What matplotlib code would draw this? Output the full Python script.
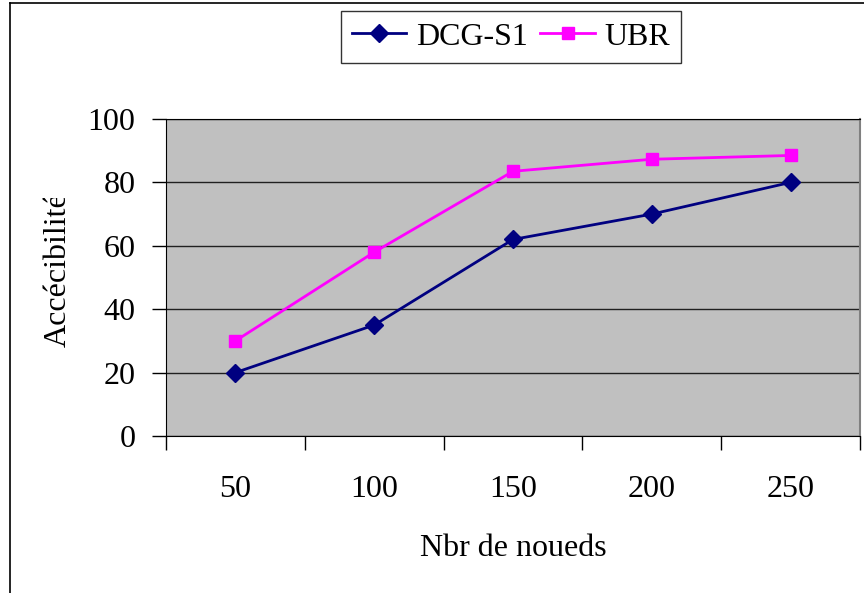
import matplotlib
matplotlib.use("Agg")
import matplotlib.pyplot as plt
from matplotlib.lines import Line2D
from matplotlib.patches import Rectangle

# --- chart data ---
nodes = ["50", "100", "150", "200", "250"]
dcg_s1 = [20, 35, 62, 70, 80]
ubr = [30, 58, 83.5, 87.3, 88.5]

plt.rcParams["font.family"] = ["Liberation Serif", "DejaVu Serif"]
FS = 23

W, H = 864, 593
fig = plt.figure(figsize=(W / 100, H / 100), dpi=100)
fig.patch.set_facecolor("white")

# plot area in pixels: x 166..860, y 119..436
ax = fig.add_axes([166 / W, 1 - 436 / H, (860 - 166) / W, (436 - 119) / H])
ax.set_facecolor("#C0C0C0")

x = list(range(len(nodes)))
ax.plot(x, dcg_s1, color="#000080", lw=2, marker="D", markersize=9,
        label="DCG-S1", zorder=3)
ax.plot(x, ubr, color="#FF00FF", lw=2, marker="s", markersize=9,
        label="UBR", zorder=3)

ax.set_xlim(-0.5, len(nodes) - 0.5)
ax.set_ylim(0, 100)
ax.set_yticks(range(0, 101, 20))
ax.set_xticks([i - 0.5 for i in range(len(nodes) + 1)], minor=False)
ax.set_xticklabels([])
ax.set_xticks(x, minor=True)
ax.set_xticklabels(nodes, minor=True)
ax.tick_params(axis="x", which="minor", length=0, pad=28, labelsize=FS)
ax.tick_params(axis="x", which="major", length=10, width=1, direction="out")
ax.tick_params(axis="y", length=10, width=1, direction="out", pad=12, labelsize=FS)
ax.yaxis.grid(True, color="#202020", lw=1)
ax.set_axisbelow(True)
for side in ["left", "bottom", "top"]:
    ax.spines[side].set_color("black")
ax.spines["right"].set_color("#808080")
ax.spines["right"].set_linewidth(1.5)

ax.set_xlabel("Nbr de noueds", fontsize=FS, labelpad=22)

# y label, its end is cut off at the top like the original
ylab = fig.text(58 / W, 1 - 347 / H, "Accécibilité", rotation=90, fontsize=FS,
                ha="center", va="bottom")
clip = Rectangle((0, 0), 1, 1 - 198 / H, transform=fig.transFigure)
fig.add_artist(clip)
clip.set_visible(False)
ylab.set_clip_path(clip)
ylab.set_clip_on(True)

leg = fig.legend(loc="center", bbox_to_anchor=(511 / W, 1 - 37 / H), ncol=2,
                 fontsize=FS, frameon=True, fancybox=False, edgecolor="black",
                 handlelength=1.7, handletextpad=0.3, columnspacing=0.4,
                 borderpad=0.35, markerscale=1.0)
leg.get_frame().set_linewidth(1)

# outer chart border (left and top visible)
fig.add_artist(Line2D([10 / W, 10 / W], [0, 1 - 3 / H], color="black", lw=1.2,
                      transform=fig.transFigure))
fig.add_artist(Line2D([10 / W, 1], [1 - 3 / H, 1 - 3 / H], color="black", lw=1.2,
                      transform=fig.transFigure))

fig.savefig("out.png", dpi=100)
